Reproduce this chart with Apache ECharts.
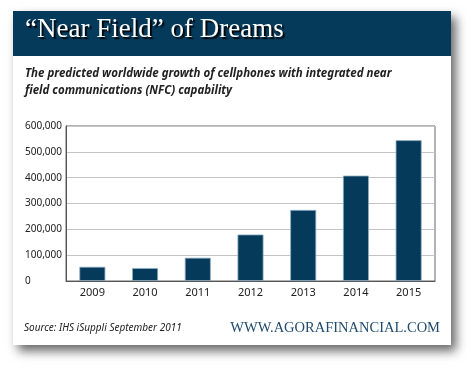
<!DOCTYPE html>
<html><head><meta charset="utf-8">
<script src="https://cdn.jsdelivr.net/npm/echarts@6/dist/echarts.min.js"></script>
<style>html,body{margin:0;padding:0;background:#fff}#c{width:470px;height:366px}</style>
</head><body><div id="c"></div>
<script>
var years = ['2009','2010','2011','2012','2013','2014','2015'];
var phones = [55000, 50000, 90000, 180000, 275000, 408000, 545000];
var title = '\u201CNear Field\u201D of Dreams';
var subtitle = 'The predicted worldwide growth of cellphones with integrated near\nfield communications (NFC) capability';
var source = 'Source: IHS iSuppli September 2011';
var site = 'WWW.AGORAFINANCIAL.COM';

var chart = echarts.init(document.getElementById('c'), null, {renderer:'canvas'});
chart.setOption({
  animation:false,
  backgroundColor:'#fff',
  graphic:[
    {type:'rect', z:-10, shape:{x:13,y:11,width:438,height:334},
     style:{fill:'#fff', shadowBlur:10, shadowOffsetX:5, shadowOffsetY:6, shadowColor:'rgba(0,0,0,0.6)'}},
    {type:'rect', z:-9, shape:{x:13,y:11,width:438,height:45}, style:{fill:'#053a5b'}},
    {type:'text', left:25, top:16, z:5,
     style:{text:title, font:'27px "Liberation Serif", serif', fill:'#fff',
       textShadowColor:'rgba(0,0,0,0.9)', textShadowOffsetX:2, textShadowOffsetY:2, textShadowBlur:1}},
    {type:'text', left:25, top:65, z:5,
     style:{text:subtitle, font:'italic bold 11.5px "Noto Sans", sans-serif', fill:'#222', lineHeight:17}},
    {type:'text', left:24, top:323, z:5,
     style:{text:source, font:'italic 10px "Noto Sans", sans-serif', fill:'#222'}},
    {type:'text', right:30, top:321, z:5,
     style:{text:site, font:'14.5px "Liberation Serif", serif', fill:'#1e4a6e'}}
  ],
  grid:{left:66, right:35, top:126, bottom:85, show:true, borderColor:'#666', borderWidth:1, backgroundColor:'transparent'},
  xAxis:{type:'category', data:years,
    axisLine:{lineStyle:{color:'#555', width:1}}, axisTick:{show:false},
    axisLabel:{color:'#222', fontSize:11, fontFamily:'"Noto Sans", sans-serif', margin:6}},
  yAxis:{type:'value', min:0, max:600000, interval:100000,
    axisLine:{show:true, lineStyle:{color:'#555'}}, axisTick:{show:false},
    splitLine:{lineStyle:{color:'#c4c4c4'}},
    axisLabel:{color:'#222', fontSize:10, fontFamily:'"Noto Sans", sans-serif', align:'left', margin:41,
      formatter:function(v){return v===0?'0':v.toLocaleString('en-US');}}},
  series:[{type:'bar', data:phones, barWidth:26,
    itemStyle:{color:'#053a5b', borderColor:'#8fb0c4', borderWidth:0.8}}]
});
</script></body></html>
